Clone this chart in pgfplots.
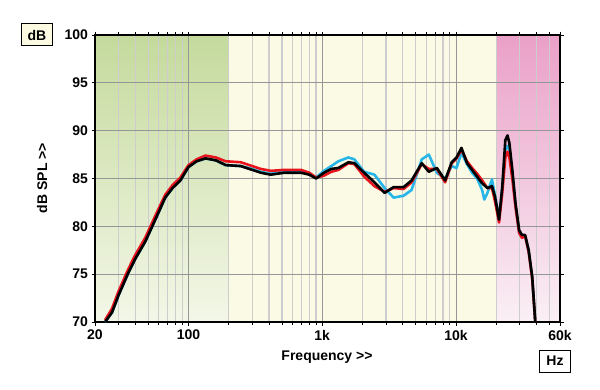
\documentclass[border=0pt]{standalone}
\usepackage{pgfplots}
\pgfplotsset{compat=1.18}
\usepackage{fontspec}
\setmainfont{Liberation Sans}
\definecolor{greentop}{RGB}{196,218,156}
\definecolor{greenbot}{RGB}{244,247,232}
\definecolor{cream}{RGB}{251,250,228}
\definecolor{pinktop}{RGB}{234,160,200}
\definecolor{pinkbot}{RGB}{250,240,245}
\definecolor{majgrid}{RGB}{150,150,150}
\definecolor{mingrid}{RGB}{205,205,205}
\definecolor{cred}{RGB}{232,20,30}
\definecolor{cblue}{RGB}{40,182,232}
\definecolor{boxfill}{RGB}{252,250,225}
\begin{document}
\begin{tikzpicture}
\begin{axis}[
  set layers,
  at={(0,0)}, anchor=south west,
  scale only axis, width=465pt, height=287pt,
  xmode=log, log basis x=10,
  xmin=20, xmax=60000, ymin=70, ymax=100,
  xtick={20,100,1000,10000,60000},
  xticklabels={20,100,1k,10k,60k},
  minor xtick={30,40,50,60,70,80,90,200,300,400,500,600,700,800,900,2000,3000,4000,5000,6000,7000,8000,9000,20000,30000,40000,50000},
  ytick={70,75,80,85,90,95,100},
  yticklabels={70,75,80,85,90,95,100},
  /pgf/number format/assume math mode=true,
  tick label style={font=\bfseries\fontsize{14}{16}\selectfont},
  xticklabel style={yshift=-1pt},
  yticklabel style={xshift=0pt},
  tick align=outside,
  major tick length=3.5pt, minor tick length=2.5pt,
  tick style={black, line width=0.8pt},
  grid=both,
  major grid style={majgrid, line width=0.7pt},
  minor grid style={mingrid, line width=1.2pt},
  axis line style={black, line width=1.4pt},
  clip=true,
]
\addplot[on layer=axis background, draw=none, fill=cream, forget plot] coordinates {(200,70) (20000,70) (20000,100) (200,100)};
\addplot[on layer=axis background, draw=none, top color=greentop, bottom color=greenbot, forget plot] coordinates {(20,70) (200,70) (200,100) (20,100)};
\addplot[on layer=axis background, draw=none, top color=pinktop, bottom color=pinkbot, forget plot] coordinates {(20000,70) (60000,70) (60000,100) (20000,100)};

% blue
\addplot[cblue, line width=2.6pt, line join=round] coordinates {
(23.8,70.0) (26.8,71.0) (30,72.8) (35.4,75.1) (40,76.6) (47.5,78.4) (56.5,80.7) (67,83.0) (76,84.0) (87,84.8)
(100,86.2) (115,86.8) (134,87.1) (160,86.9) (190,86.4) (246,86.3) (300,86.0) (348,85.7) (413,85.5) (518,85.7)
(695,85.7) (800,85.5) (900,85.1) (1030,85.8) (1170,86.3) (1320,86.8) (1570,87.2) (1740,87.0) (2060,85.7) (2460,85.4)
(2930,84.0) (3420,83.0) (4060,83.2) (4660,83.8) (5550,87.0) (6270,87.5) (7200,85.6) (8300,85.0) (9300,86.3) (10100,86.1)
(11000,87.7) (12100,86.5) (13200,85.6) (14400,85.0) (15700,83.8) (16300,82.8) (17200,83.5) (18600,84.9) (19600,83.2) (21000,80.8)
(22200,84.0) (23400,88.0) (24300,88.4) (25100,88.0) (26400,85.5) (27900,82.2) (29700,79.3) (31200,78.9) (32900,79.0) (35000,77.4)
(37200,74.6) (39200,70.0)
};
% red
\addplot[cred, line width=2.6pt, line join=round] coordinates {
(23.8,70.2) (26.8,71.4) (30,73.2) (35.4,75.5) (40,77.0) (47.5,78.8) (56.5,81.1) (67,83.3) (76,84.3) (87,85.1)
(100,86.4) (115,87.0) (134,87.4) (160,87.2) (190,86.8) (246,86.7) (300,86.3) (348,86.0) (413,85.8) (518,85.9)
(695,85.9) (800,85.6) (900,85.1) (1030,85.3) (1170,85.7) (1320,85.9) (1570,86.6) (1740,86.5) (2060,85.2) (2460,84.2)
(2930,83.6) (3420,84.0) (4060,83.9) (4660,84.6) (5550,86.5) (6270,86.0) (7200,86.0) (8300,84.6) (9300,86.6) (10100,87.1)
(11000,88.0) (12100,86.8) (13200,86.1) (14400,85.5) (15700,84.8) (17200,84.0) (18600,84.0) (19600,82.6) (21000,80.4) (22200,83.5)
(23400,87.2) (24300,87.8) (25100,87.2) (26400,85.0) (27900,82.0) (29700,79.3) (31200,78.8) (32900,79.0) (35000,77.3) (37200,74.5)
(39200,70.0)
};
% black
\addplot[black, line width=2.6pt, line join=round] coordinates {
(23.8,70.0) (26.8,71.0) (30,72.8) (35.4,75.1) (40,76.6) (47.5,78.4) (56.5,80.7) (67,83.0) (76,84.0) (87,84.8)
(100,86.2) (115,86.8) (134,87.1) (160,86.9) (190,86.4) (246,86.3) (300,85.9) (348,85.6) (413,85.4) (518,85.6)
(695,85.6) (800,85.4) (900,85.0) (1030,85.6) (1170,86.0) (1320,86.1) (1570,86.7) (1740,86.6) (2060,85.6) (2460,84.6)
(2930,83.5) (3420,84.1) (4060,84.1) (4660,84.8) (5550,86.6) (6270,85.7) (7200,86.1) (8300,84.8) (9300,86.7) (10100,87.2)
(11000,88.2) (12100,86.6) (13200,85.9) (14400,85.2) (15700,84.5) (17200,84.0) (18600,84.2) (19600,83.1) (21000,80.7) (22200,84.1)
(23400,89.0) (24300,89.5) (25100,88.7) (26400,85.9) (27900,82.4) (29700,79.6) (31200,79.1) (32900,79.1) (35000,77.5) (37200,74.7)
(39200,70.0)
};
\end{axis}
\path (-95pt,-67pt) rectangle (505pt,322pt);
\node[font=\bfseries\fontsize{14}{16}\selectfont] at (232pt,-35pt) {Frequency >{}>};
\node[font=\bfseries\fontsize{14}{16}\selectfont, rotate=90] at (-53pt,144pt) {dB SPL >{}>};
\node[draw=black, line width=1pt, fill=boxfill, font=\bfseries\fontsize{14}{16}\selectfont, minimum width=31pt, minimum height=22pt, inner sep=1pt] at (-58pt,287pt) {dB};
\node[draw=black, line width=1pt, fill=white, font=\bfseries\fontsize{14}{16}\selectfont, minimum width=31pt, minimum height=22pt, inner sep=1pt] at (460pt,-39pt) {Hz};
\end{tikzpicture}
\end{document}
